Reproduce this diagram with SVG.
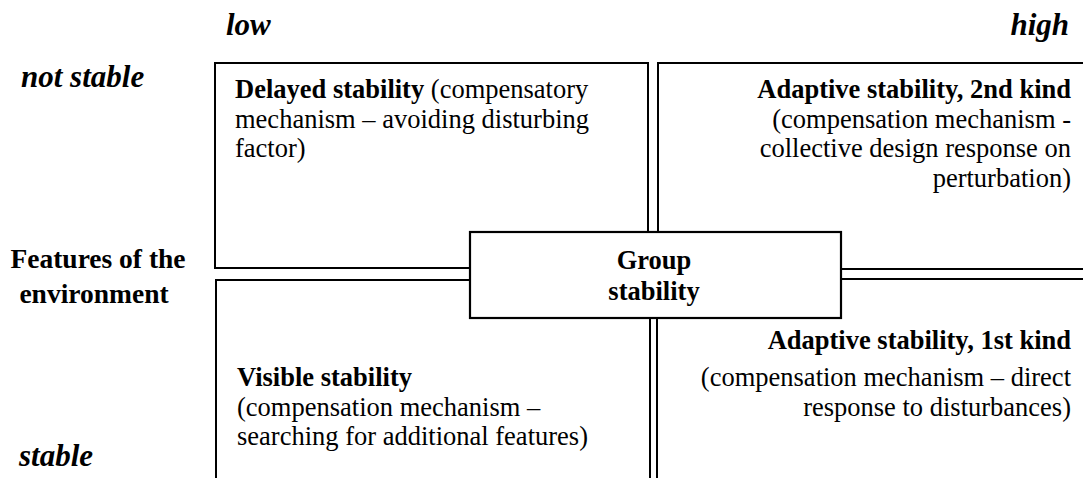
<svg xmlns="http://www.w3.org/2000/svg" width="1083" height="478" viewBox="0 0 1083 478" font-family="Liberation Serif, serif" font-size="26.5" fill="#000">
<g id="axis-labels" font-weight="bold">
<g font-style="italic" font-size="31">
<text x="226" y="35">low</text>
<text x="1069" y="35" text-anchor="end">high</text>
<text x="21" y="87">not stable</text>
<text x="19" y="466">stable</text>
</g>
<g font-size="27.5" text-anchor="middle">
<text x="98" y="268">Features of the</text>
<text x="94" y="303">environment</text>
</g>
</g>
<g id="q-delayed">
<rect x="215" y="63" width="433" height="205" fill="#fff" stroke="#000" stroke-width="2"/>
<text x="235" y="98"><tspan font-weight="bold">Delayed stability</tspan> (compensatory</text>
<text x="235" y="127.5">mechanism – avoiding disturbing</text>
<text x="235" y="157">factor)</text>
</g>
<g id="q-adaptive2" text-anchor="end">
<rect x="658" y="63" width="440" height="206" fill="#fff" stroke="#000" stroke-width="2"/>
<text x="1071" y="98" font-weight="bold">Adaptive stability, 2nd kind</text>
<text x="1071" y="127.5">(compensation mechanism -</text>
<text x="1071" y="157">collective design response on</text>
<text x="1071" y="186.5">perturbation)</text>
</g>
<g id="q-visible">
<rect x="216" y="280" width="434" height="220" fill="#fff" stroke="#000" stroke-width="2"/>
<text x="237" y="386" font-weight="bold">Visible stability</text>
<text x="237" y="415.5">(compensation mechanism –</text>
<text x="237" y="445">searching for additional features)</text>
</g>
<g id="q-adaptive1" text-anchor="end">
<rect x="657" y="279" width="440" height="220" fill="#fff" stroke="#000" stroke-width="2"/>
<text x="1071" y="349" font-weight="bold">Adaptive stability, 1st kind</text>
<text x="1071" y="386">(compensation mechanism – direct</text>
<text x="1071" y="415.5">response to disturbances)</text>
</g>
<g id="center" font-weight="bold" text-anchor="middle">
<rect x="470" y="232" width="371" height="86" fill="#fff" stroke="#000" stroke-width="2.2"/>
<text x="654" y="269">Group</text>
<text x="654" y="300">stability</text>
</g>
<g id="connectors"></g>
</svg>
